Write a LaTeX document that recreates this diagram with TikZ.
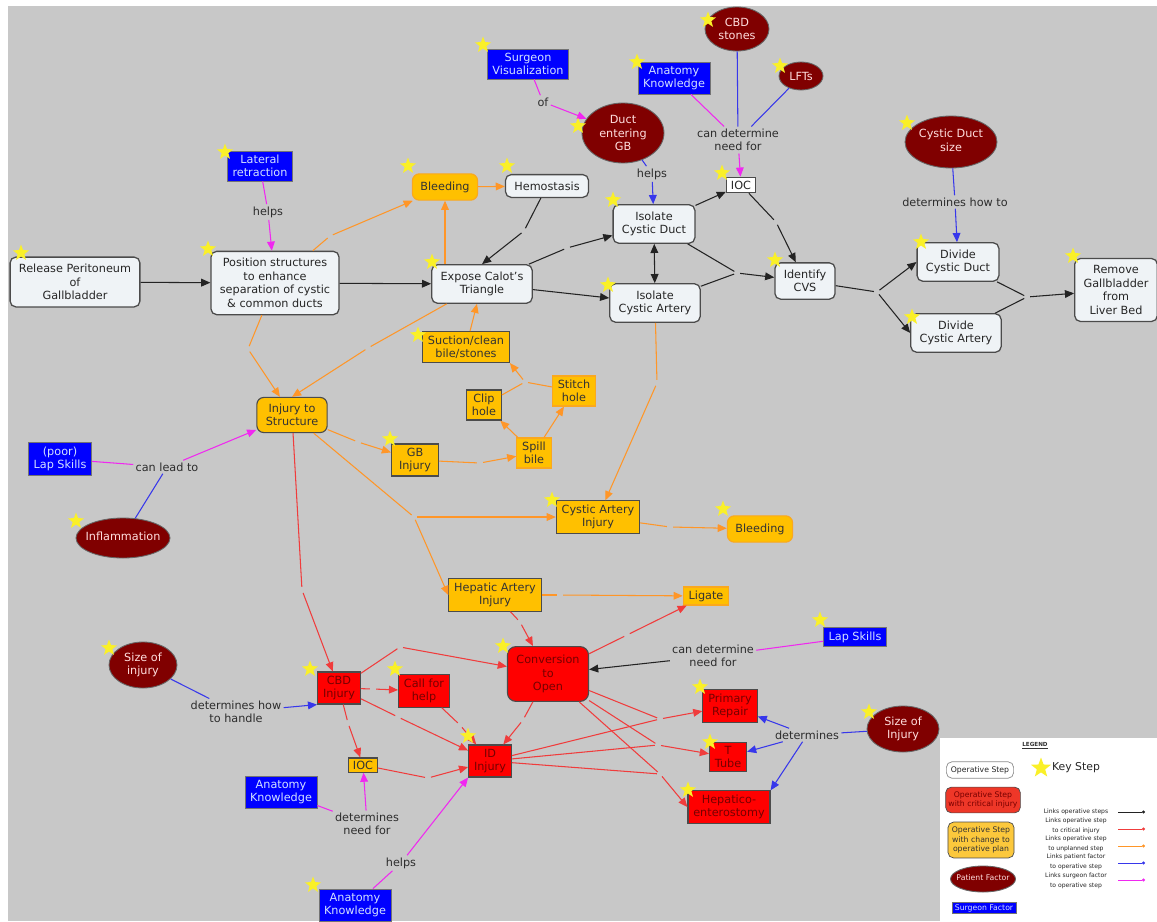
\documentclass[tikz,border=0pt]{standalone}
\usepackage{fontspec}
\setmainfont{DejaVu Sans}
\usetikzlibrary{shapes.geometric,arrows.meta}

\definecolor{bggray}{RGB}{200,200,200}
\definecolor{stepfill}{RGB}{239,243,246}
\definecolor{stepdraw}{RGB}{75,75,75}
\definecolor{unplanfill}{RGB}{255,192,0}
\definecolor{unplandraw}{RGB}{250,168,30}
\definecolor{critfill}{RGB}{255,0,0}
\definecolor{crittext}{RGB}{118,0,0}
\definecolor{patfill}{RGB}{128,0,0}
\definecolor{pattext}{RGB}{255,222,222}
\definecolor{surgfill}{RGB}{0,0,255}
\definecolor{surgtext}{RGB}{210,225,255}
\definecolor{phrasetext}{RGB}{45,45,45}
\definecolor{opcol}{RGB}{35,35,35}
\definecolor{critcol}{RGB}{240,60,60}
\definecolor{unplancol}{RGB}{255,150,40}
\definecolor{patcol}{RGB}{55,55,235}
\definecolor{surgcol}{RGB}{240,40,240}
\definecolor{staryellow}{RGB}{250,240,40}
\definecolor{critlegend}{RGB}{238,55,40}
\definecolor{unplanlegend}{RGB}{252,200,60}

\newcommand{\pxu}{0.025cm}
\newcommand{\nowidth}[1]{\makebox[0pt]{\begin{tabular}{@{}c@{}}#1\end{tabular}}}

\tikzset{
  conceptfont/.style={font=\fontsize{8}{9.6}\selectfont, align=center},
  opstep/.style={conceptfont, rectangle, rounded corners=4pt, draw=stepdraw, line width=0.9pt,
    fill=stepfill, text=black!85, inner xsep=6.3pt, inner ysep=5pt},
  opbox/.style={conceptfont, rectangle, draw=stepdraw, line width=0.8pt, fill=white,
    text=black!85, inner xsep=3.2pt, inner ysep=2.5pt},
  unplanned/.style={conceptfont, rectangle, draw=stepdraw, line width=0.8pt, fill=unplanfill,
    text=black!80, inner xsep=3.8pt, inner ysep=2.8pt},
  unplanlight/.style={unplanned, draw=unplandraw},
  unplanpill/.style={unplanned, rounded corners=5pt, draw=unplandraw, inner xsep=5.7pt, inner ysep=5.5pt},
  critical/.style={conceptfont, rectangle, draw=stepdraw, line width=0.8pt, fill=critfill,
    text=crittext, inner xsep=3.8pt, inner ysep=2.8pt},
  patient/.style={conceptfont, ellipse, draw=black!60, line width=0.6pt, fill=patfill,
    text=pattext, inner sep=0pt},
  surgeon/.style={conceptfont, rectangle, draw=black!55, line width=0.6pt, fill=surgfill,
    text=surgtext, inner xsep=3.6pt, inner ysep=2.8pt},
  phrase/.style={conceptfont, text=phrasetext, inner sep=1.5pt},
  joint/.style={circle, inner sep=0pt, minimum size=4pt},
  keystar/.style={star, star points=5, star point ratio=2.4, fill=staryellow, inner sep=0pt,
    minimum size=17*\pxu},
  legtext/.style={font=\fontsize{4.3}{6.7}\selectfont, align=center, text=black!85, inner sep=0pt},
  opline/.style={opcol, line width=0.75pt},
  critline/.style={critcol, line width=0.75pt},
  unplanline/.style={unplancol, line width=0.75pt},
  patline/.style={patcol, line width=0.75pt},
  surgline/.style={surgcol, line width=0.75pt},
}

\begin{document}
\begin{tikzpicture}[x=0.025cm, y=-0.025cm, >={Triangle[length=6.5pt,width=5.5pt]}]

\useasboundingbox (0,0) rectangle (1157,921);

% Background
\fill[white] (0,0) rectangle (1157,921);
\fill[bggray] (8,6) rectangle (1157,921);

% Operative steps
\node[opstep] (release) at (75,282) {Release Peritoneum\\of\\Gallbladder};
\node[opstep] (position) at (275,283) {Position structures\\to enhance\\separation of cystic\\\& common ducts};
\node[opstep] (expose) at (482,284) {Expose Calot's\\Triangle};
\node[opstep] (hemostasis) at (547,186) {Hemostasis};
\node[opstep] (isoduct) at (654,224) {Isolate\\Cystic Duct};
\node[opstep] (isoartery) at (655,303) {Isolate\\Cystic Artery};
\node[opbox] (iocA) at (741,185) {IOC};
\node[opstep] (identify) at (805,281) {Identify\\CVS};
\node[opstep] (dividecd) at (958,262) {Divide\\Cystic Duct};
\node[opstep] (divideca) at (956,333) {Divide\\Cystic Artery};
\node[opstep] (remove) at (1116,290) {Remove\\Gallbladder\\from\\Liver Bed};

% Unplanned steps
\node[unplanpill] (bleedA) at (445,187) {Bleeding};
\node[unplanned, rounded corners=5pt, inner xsep=6.4pt, inner ysep=4.6pt] (injury) at (292,415) {Injury to\\Structure};
\node[unplanned] (suction) at (466,347) {Suction/clean\\bile/stones};
\node[unplanned] (cliphole) at (484,405) {Clip\\hole};
\node[unplanlight] (stitch) at (574,391) {Stitch\\hole};
\node[unplanlight] (spill) at (534,453) {Spill\\bile};
\node[unplanned, inner xsep=5.3pt] (gbinj) at (415,460) {GB\\Injury};
\node[unplanned] (cainj) at (598,517) {Cystic Artery\\Injury};
\node[unplanpill] (bleedB) at (760,529) {Bleeding};
\node[unplanned] (hainj) at (495,595) {Hepatic Artery\\Injury};
\node[unplanlight, inner ysep=2.5pt] (ligate) at (706,596) {Ligate};
\node[unplanned, inner xsep=3pt, inner ysep=2pt] (iocB) at (363,765) {IOC};

% Critical injury
\node[critical] (cbd) at (339,688) {CBD\\Injury};
\node[critical] (callhelp) at (424,691) {Call for\\help};
\node[critical] (idinj) at (490,761) {ID\\Injury};
\node[critical, rounded corners=6pt, inner xsep=6.4pt, inner ysep=6pt] (conversion) at (548,674) {Conversion\\to\\Open};
\node[critical] (primary) at (730,706) {Primary\\Repair};
\node[critical] (ttube) at (728,757) {T\\Tube};
\node[critical] (hepatico) at (729,807) {Hepatico-\\enterostomy};

% Patient factors
\node[patient, minimum width=64*\pxu, minimum height=44*\pxu] (cbdstones) at (737,29) {CBD\\stones};
\node[patient, minimum width=44*\pxu, minimum height=28*\pxu] (lfts) at (801,76) {LFTs};
\node[patient, minimum width=82*\pxu, minimum height=60*\pxu] (ductgb) at (623,133) {Duct\\entering\\GB};
\node[patient, minimum width=92*\pxu, minimum height=52*\pxu] (cdsize) at (951,142) {\nowidth{Cystic Duct\\size}};
\node[patient, minimum width=94*\pxu, minimum height=40*\pxu] (inflam) at (123,538) {\nowidth{Inflammation}};
\node[patient, minimum width=68*\pxu, minimum height=46*\pxu] (sizeA) at (143,665) {Size of\\injury};
\node[patient, minimum width=72*\pxu, minimum height=46*\pxu] (sizeB) at (903,729) {Size of\\Injury};

% Surgeon factors
\node[surgeon] (lateral) at (260,166) {Lateral\\retraction};
\node[surgeon] (survis) at (528,64) {Surgeon\\Visualization};
\node[surgeon] (anatA) at (674,78) {Anatomy\\Knowledge};
\node[surgeon] (lapA) at (60,459) {(poor)\\Lap Skills};
\node[surgeon] (lapB) at (855,637) {Lap Skills};
\node[surgeon] (anatB) at (281,792) {Anatomy\\Knowledge};
\node[surgeon] (anatC) at (355,905) {Anatomy\\Knowledge};

% Linking phrases
\node[phrase] (helpsA) at (268,212) {helps};
\node[phrase] (of) at (543,102) {of};
\node[phrase] (needA) at (738,140) {can determine\\need for};
\node[phrase] (helpsB) at (652,174) {helps};
\node[phrase] (howto) at (955,202) {determines how to};
\node[phrase] (leadto) at (167,467) {can lead to};
\node[phrase] (needB) at (713,656) {can determine\\need for};
\node[phrase] (handle) at (236,712) {determines how\\to handle};
\node[phrase] (detB) at (807,735) {determines};
\node[phrase] (needC) at (367,824) {determines\\need for};
\node[phrase] (helpsC) at (401,863) {helps};

% Joints of unlabelled links
\foreach \name/\x/\y in {
gHemo/524/231, gExDuct/567/248, gIocId/776/222, jCvs/737/273,
jDiv/877/292, jRem/1027/297, gPosBl/330/236, gPosInj/248/349,
gExInj/368/348, jHole/525/382, gGbSp/480/463, gInjGb/358/442,
jInj/414/517, jArt/657/383, gCaBl/670/527, gHaLig/560/595,
gInjCbd/302/590, gHaConv/520/622, jCbdConv/400/647, gCbdHelp/373/689,
gCbdId/398/717, gHelpId/460/725, gCbdIoc/348/723, gIocId2/428/778,
gConvId/523/720, gConvLig/627/635, jPrim/660/719, jTube/658/745,
jHep/660/774
}{
\node[joint] (\name) at (\x,\y) {};
}

% Links operative steps
\draw[opline,->] (release) -- (position);
\draw[opline,->] (position) -- (expose);
\draw[opline] (hemostasis) -- (gHemo) edge[->] (expose.north);
\draw[opline] (expose) -- (gExDuct) edge[->] (isoduct);
\draw[opline,->] (expose) -- (isoartery);
\draw[opline,<->] (isoduct) -- (isoartery);
\draw[opline,->] (isoduct) -- (iocA);
\draw[opline] (iocA) -- (gIocId) edge[->] (identify);
\draw[opline] (isoduct) -- (jCvs);
\draw[opline] (isoartery) -- (jCvs) edge[->] (identify);
\draw[opline] (identify) -- (jDiv) edge[->] (dividecd.west) (jDiv) edge[->] (divideca.west);
\draw[opline] (dividecd) -- (jRem);
\draw[opline] (divideca) -- (jRem) edge[->] (remove);
\draw[opline,->] (needB) -- (conversion);

% Links operative step to unplanned step
\draw[unplanline] (position) -- (gPosBl) edge[->] (bleedA);
\draw[unplanline,->] (bleedA.south |- expose.north) -- (bleedA);
\draw[unplanline,->] (bleedA) -- (hemostasis);
\draw[unplanline] (position) -- (gPosInj) edge[->] (injury);
\draw[unplanline] (expose) -- (gExInj) edge[->] (injury.north);
\draw[unplanline,->] (suction) -- (expose);
\draw[unplanline] (cliphole) -- (jHole);
\draw[unplanline] (stitch) -- (jHole) edge[->] (suction.south east);
\draw[unplanline,->] (spill) -- (cliphole);
\draw[unplanline,->] (spill) -- (stitch);
\draw[unplanline] (gbinj) -- (gGbSp) edge[->] (spill);
\draw[unplanline] (injury) -- (gInjGb) edge[->] (gbinj);
\draw[unplanline] (injury) -- (jInj) edge[->] (cainj) (jInj) edge[->] (hainj.west);
\draw[unplanline] (isoartery) -- (jArt) edge[->] (cainj);
\draw[unplanline] (cainj) -- (gCaBl) edge[->] (bleedB);
\draw[unplanline] (hainj) -- (gHaLig) edge[->] (ligate);

% Links operative step to critical injury
\draw[critline] (injury) -- (gInjCbd) edge[->] (cbd);
\draw[critline] (hainj) -- (gHaConv) edge[->] (conversion);
\draw[critline] (cbd) -- (jCbdConv) edge[->] (conversion);
\draw[critline] (cbd) -- (gCbdHelp) edge[->] (callhelp);
\draw[critline] (cbd) -- (gCbdId) edge[->] (idinj);
\draw[critline] (callhelp) -- (gHelpId) edge[->] (idinj);
\draw[critline] (cbd) -- (gCbdIoc) edge[->] (iocB);
\draw[critline] (iocB) -- (gIocId2) edge[->] (idinj);
\draw[critline] (conversion) -- (gConvId) edge[->] (idinj);
\draw[critline] (conversion) -- (gConvLig) edge[->] (ligate);
\draw[critline] (idinj) -- (jPrim);
\draw[critline] (conversion) -- (jPrim) edge[->] (primary);
\draw[critline] (idinj) -- (jTube);
\draw[critline] (conversion) -- (jTube) edge[->] (ttube);
\draw[critline] (idinj) -- (jHep);
\draw[critline] (conversion) -- (jHep) edge[->] (hepatico.west);

% Links patient factor to operative step
\draw[patline] (ductgb) -- (helpsB) edge[->] (isoduct);
\draw[patline] (cbdstones) -- (needA);
\draw[patline] (lfts) -- (needA);
\draw[patline] (cdsize) -- (howto) edge[->] (dividecd);
\draw[patline] (inflam) -- (leadto);
\draw[patline] (sizeA) -- (handle) edge[->] (cbd.south west);
\draw[patline] (sizeB) -- (detB) edge[->] (primary) (detB) edge[->] (ttube) (detB) edge[->] (hepatico.north east);

% Links surgeon factor to operative step
\draw[surgline] (lateral) -- (helpsA) edge[->] (position);
\draw[surgline] (survis) -- (of) edge[->] (ductgb);
\draw[surgline] (anatA) -- (needA) edge[->] (iocA);
\draw[surgline] (lapA) -- (leadto) edge[->] (injury);
\draw[surgline] (lapB) -- (needB);
\draw[surgline] (anatB) -- (needC) edge[->] (iocB);
\draw[surgline] (anatC) -- (helpsC) edge[->] (idinj.south west);

% Key steps
\foreach \x/\y [count=\i] in {
21/253, 208/249, 225/152, 408/166, 507/166, 432/262, 613/200, 608/285,
722/173, 775/260, 578/126, 483/45, 637/62, 708/20, 780/66, 907/123,
921/242, 912/317, 1073/256, 418/335, 390/439, 552/500, 723/509, 76/521,
109/648, 310/669, 395/669, 468/736, 313/885, 503/646, 700/687, 710/742,
688/790, 820/620, 869/712
}{
\node[keystar] (star\i) at (\x,\y) {};
}

% Legend
\fill[white] (940,738) rectangle (1157,921);
\node[font=\bfseries\fontsize{4}{5}\selectfont, text=black!80] (legtitle) at (1035,746) {\underline{LEGEND}};
\node[opstep, draw=black!45, line width=0.5pt, fill=white, font=\fontsize{5.5}{6.6}\selectfont,
  inner xsep=3.2pt, inner ysep=3.2pt] (legstep) at (980,770) {Operative Step};
\node[keystar, minimum size=21*\pxu] (legstar) at (1041,768) {};
\node[font=\fontsize{7.7}{9}\selectfont, text=black!85] (legkey) at (1076,768) {Key Step};
\node[critical, rounded corners=4pt, fill=critlegend, line width=0.5pt, font=\fontsize{5.5}{6.6}\selectfont,
  inner xsep=2pt, inner ysep=3.2pt] (legcrit) at (983,800) {Operative Step\\with critical injury};
\node[unplanned, rounded corners=4pt, fill=unplanlegend, line width=0.5pt, font=\fontsize{5.5}{6.6}\selectfont,
  inner xsep=2.8pt, inner ysep=3.5pt] (legunplan) at (981,840) {Operative Step\\with change to\\operative plan};
\node[patient, minimum width=65*\pxu, minimum height=26*\pxu, font=\fontsize{5.5}{6.6}\selectfont]
  (legpat) at (983,879) {\nowidth{Patient Factor}};
\node[surgeon, font=\fontsize{5.5}{6.6}\selectfont, inner xsep=2pt, inner ysep=1.2pt] (legsurg) at (984,908) {Surgeon Factor};
\node[legtext] (legop) at (1076,812) {Links operative steps};
\node[legtext] (legcritx) at (1076,826) {Links operative step\\to critical injury};
\node[legtext] (legunplanx) at (1076,844) {Links operative step\\to unplanned step};
\node[legtext] (legpatx) at (1076,862) {Links patient factor\\to operative step};
\node[legtext] (legsurgx) at (1076,881) {Links surgeon factor\\to operative step};
\foreach \ly/\lc in {812/opcol, 829/critcol, 846/unplancol, 863/patcol, 880/surgcol}{
\draw[color=\lc, line width=0.5pt, -{Circle[length=2.2pt]}] (1118,\ly) -- (1145,\ly);
}

\end{tikzpicture}
\end{document}
